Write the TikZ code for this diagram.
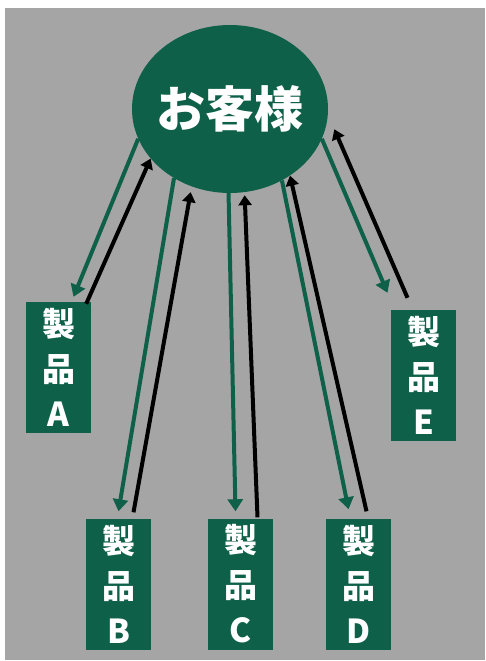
\documentclass[tikz,border=0pt]{standalone}
\usepackage{fontspec}
\usepackage{xcolor}
\usepackage{tikz}
\usetikzlibrary{arrows.meta,shapes.geometric}
\newfontfamily\jpfont{Noto Sans CJK JP}
\definecolor{kgreen}{RGB}{14,96,72}
\definecolor{kgray}{RGB}{165,165,165}

\begin{document}
\begin{tikzpicture}[x=1pt,y=-1pt,
    item/.style={rectangle,fill=kgreen,text=white,minimum width=65pt,minimum height=131pt,
      inner sep=0pt,align=center,font=\jpfont\bfseries\fontsize{33}{45}\selectfont},
    togo/.style={kgreen,line width=4pt,-{Triangle[width=15pt,length=12pt]}},
    toback/.style={black,line width=4pt,-{Triangle[width=13pt,length=10pt]}}]
    \useasboundingbox (0,0) rectangle (486,661);
    \fill[white] (0,0) rectangle (486,661);
    \fill[kgray] (5,8) rectangle (485,660);
    \node [ellipse,fill=kgreen,text=white,minimum width=196pt,minimum height=168pt,inner sep=-6pt,
      font=\jpfont\bfseries\fontsize{49}{55}\selectfont] (kyaku) at (230,109) {お客様};
    \node [item] (a) at (58.5,367.5) {製\\品\\A};
    \node [item] (b) at (118.5,584) {製\\品\\B};
    \node [item] (c) at (240.5,584) {製\\品\\C};
    \node [item] (d) at (358.5,584) {製\\品\\D};
    \node [item] (e) at (423.5,375.5) {製\\品\\E};
    % A
    \draw[togo] (kyaku.198) -- ([xshift=15pt,yshift=5pt]a.north);
    \draw[toback] ([xshift=-5pt,yshift=-2pt]a.north east) -- (kyaku.212);
    % B
    \draw[togo] (kyaku.231) -- ([yshift=7pt]b.north);
    \draw[toback] ([xshift=15pt,yshift=6pt]b.north) -- ([yshift=-6pt]kyaku.243);
    % C
    \draw[togo] (kyaku.269) -- ([xshift=-5pt,yshift=7pt]c.north);
    \draw[toback] ([xshift=17pt,yshift=1pt]c.north) -- ([yshift=-3pt]kyaku.280);
    % D
    \draw[togo] (kyaku.306) -- ([xshift=-10pt,yshift=9pt]d.north);
    \draw[toback] ([xshift=8pt,yshift=7pt]d.north) -- (kyaku.312);
    % E
    \draw[togo] (kyaku.342) -- ([xshift=-36pt,yshift=17pt]e.north);
    \draw[toback] ([xshift=-16pt,yshift=12pt]e.north) -- ([xshift=9pt]kyaku.348);
\end{tikzpicture}
\end{document}
